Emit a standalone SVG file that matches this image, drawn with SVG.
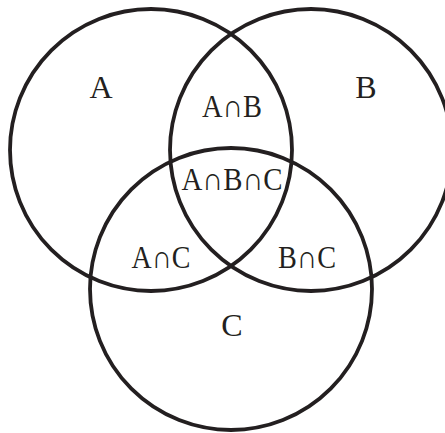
<svg xmlns="http://www.w3.org/2000/svg" width="445" height="433" viewBox="0 0 445 433">
<style>
.c{fill:none;stroke:#231f20;stroke-width:3.8}
.t{font-family:"Liberation Serif","Times New Roman",serif;font-size:32px;fill:#231f20;text-anchor:middle}
</style>
<rect width="445" height="433" fill="#fff"/>
<g id="connectors"/>
<g id="setA"><circle class="c" cx="151" cy="150" r="141"/><text class="t" x="101" y="98">A</text></g>
<g id="setB"><circle class="c" cx="311" cy="150" r="141"/><text class="t" x="366" y="98">B</text></g>
<g id="setC"><circle class="c" cx="231" cy="289" r="141"/><text class="t" x="232" y="336">C</text></g>
<g id="AB"><text class="t" x="232" y="117" textLength="60" lengthAdjust="spacingAndGlyphs">A∩B</text></g>
<g id="ABC"><text class="t" x="232" y="190" textLength="101" lengthAdjust="spacingAndGlyphs">A∩B∩C</text></g>
<g id="AC"><text class="t" x="161" y="268" textLength="59" lengthAdjust="spacingAndGlyphs">A∩C</text></g>
<g id="BC"><text class="t" x="307" y="268" textLength="58" lengthAdjust="spacingAndGlyphs">B∩C</text></g>
</svg>
